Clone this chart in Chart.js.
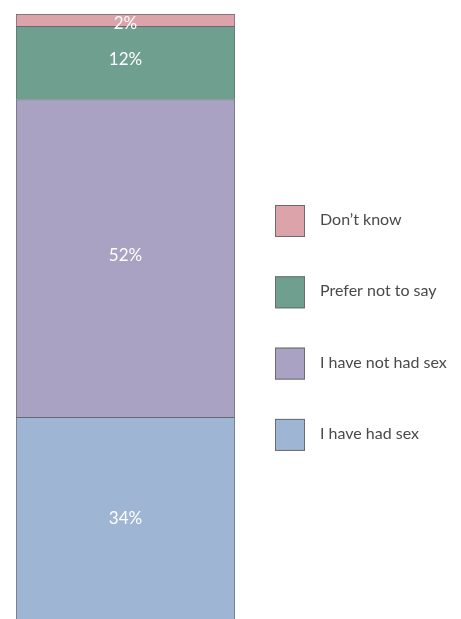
<!DOCTYPE html>
<html>
<head>
<meta charset="utf-8">
<script src="https://cdn.jsdelivr.net/npm/chart.js@4"></script>
<style>
  html, body { margin: 0; padding: 0; background: #fff; overflow: hidden; }
  #wrap { width: 461px; height: 619px; overflow: hidden; }
</style>
</head>
<body>
<div id="wrap"><canvas id="sexChart" width="461" height="625"></canvas></div>
<script>
const categories = [""];
const seriesNames = ["I have had sex", "I have not had sex", "Prefer not to say", "Don\u2019t know"];
const seriesValues = [[34], [52], [12], [2]];
const seriesColors = ["#9eb6d4", "#a9a2c3", "#6fa08f", "#dca3ab"];

const canvas = document.getElementById("sexChart");
const ctx = canvas.getContext("2d");

// value labels inside each segment
const segmentLabels = {
  id: "segmentLabels",
  afterDatasetsDraw(chart) {
    const c = chart.ctx;
    c.save();
    c.font = "17px Lato";
    c.fillStyle = "#ffffff";
    c.textAlign = "center";
    c.textBaseline = "middle";
    chart.data.datasets.forEach((ds, i) => {
      chart.getDatasetMeta(i).data.forEach((bar, j) => {
        const p = bar.getCenterPoint();
        const y = Math.max(p.y - 3, bar.y + 10);
        c.fillText(ds.data[j] + "%", p.x, y);
      });
    });
    c.restore();
  },
};

// legend on the right, top entry is the last series
const sideLegend = {
  id: "sideLegend",
  afterDraw(chart) {
    const c = chart.ctx;
    c.save();
    c.font = "16px Lato";
    c.textBaseline = "middle";
    const n = chart.data.datasets.length;
    for (let k = 0; k < n; k++) {
      const ds = chart.data.datasets[n - 1 - k];
      const top = 205 + k * 71.3;
      c.fillStyle = ds.backgroundColor;
      c.fillRect(275, top, 30, 32);
      c.strokeStyle = "#6b6b6b";
      c.lineWidth = 1;
      c.strokeRect(275.5, top + 0.5, 29, 31);
      c.fillStyle = "#4a4a4a";
      c.fillText(ds.label, 320, top + 15);
    }
    c.restore();
  },
};

new Chart(ctx, {
  type: "bar",
  data: {
    labels: categories,
    datasets: seriesNames.map((name, i) => ({
      label: name,
      data: seriesValues[i],
      backgroundColor: seriesColors[i],
      borderColor: "#666a6e",
      borderWidth: 1,
      borderSkipped: "start",
      categoryPercentage: 1,
      barPercentage: 1,
    })),
  },
  options: {
    responsive: false,
    animation: false,
    layout: {
      padding: { left: 16, right: 226, top: 14, bottom: 0 },
    },
    scales: {
      x: { stacked: true, display: false },
      y: { stacked: true, display: false, min: 0, max: 100 },
    },
    plugins: {
      legend: { display: false },
      tooltip: { enabled: false },
    },
  },
  plugins: [segmentLabels, sideLegend],
});
</script>
</body>
</html>
